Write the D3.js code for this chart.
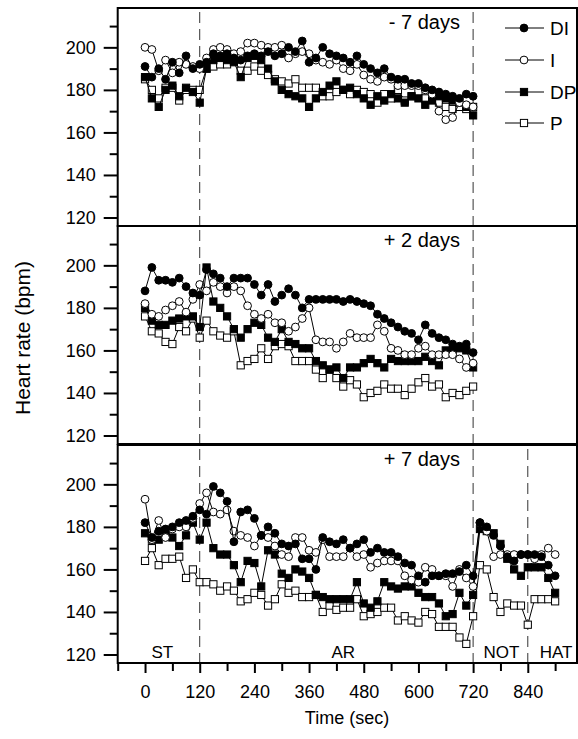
<!DOCTYPE html>
<meta charset="utf-8">
<script src="https://d3js.org/d3.v7.min.js"></script>
<style>
  body { margin: 0; background: #fff; }
  text { font-family: "Liberation Sans", Arial, sans-serif; fill: #000; }
</style>
<body>
<div id="chart"></div>
<script>
// time stamps (sec)
var timesAR = [0,15,30,45,60,75,90,105,120,135,150,165,180,195,210,225,240,255,270,285,300,315,330,345,360,375,390,405,420,435,450,465,480,495,510,525,540,555,570,585,600,615,630,645,660,675,690,705,720];
var timesAll = timesAR.concat([735,750,765,780,795,810,825,840,855,870,885,900]);

// - 7 days
var DI1 = [191,186,190,185,193,188,196,190,192,193,197,196,197,195,194,196,197,196,198,196,197,200,198,203,193,195,200,197,196,195,193,196,192,190,188,190,186,185,185,183,183,181,180,179,178,177,176,178,177];
var I1  = [200,199,189,194,188,193,192,191,190,195,199,200,199,197,198,202,202,201,200,200,201,195,197,198,197,194,193,192,194,190,189,192,187,185,184,186,185,182,182,182,182,180,178,170,166,167,174,173,172];
var DP1 = [186,176,172,180,182,177,181,179,174,190,194,195,194,193,186,195,196,194,190,184,180,178,177,176,172,176,179,182,184,180,181,178,176,173,177,175,178,176,174,177,176,173,175,177,176,175,174,172,168];
var P1  = [185,180,176,181,181,175,180,180,180,190,191,192,192,194,189,189,191,189,187,185,184,183,185,181,181,181,177,177,179,180,178,180,179,178,174,178,176,180,175,177,179,176,177,174,172,171,172,171,172];

// + 2 days
var DI2 = [188,199,193,193,192,194,190,187,186,198,196,194,190,194,194,194,191,186,191,183,186,189,186,180,184,184,184,184,184,183,184,183,182,181,177,175,173,171,169,168,165,172,168,166,165,163,162,163,159];
var I2  = [182,177,176,179,181,183,178,184,191,188,192,190,187,190,188,181,177,175,177,173,173,169,171,175,180,165,164,164,161,164,168,166,166,166,172,169,161,160,158,158,161,162,158,158,158,158,156,152,154];
var DP2 = [180,174,172,172,174,175,176,176,171,199,183,180,176,170,166,170,173,172,166,164,170,164,163,161,161,155,153,151,152,147,152,152,154,156,154,152,156,155,155,155,155,157,155,153,160,160,161,160,152];
var P2  = [176,169,168,164,163,171,169,175,166,174,169,167,166,169,153,155,156,161,156,162,163,162,155,155,155,151,147,151,147,143,146,144,138,140,141,144,142,142,139,142,145,147,143,144,138,140,139,141,143];

// + 7 days
var DI3 = [182,175,178,179,180,182,183,185,188,186,199,196,192,173,187,188,184,176,180,177,172,171,172,165,165,160,175,173,172,174,170,172,174,168,170,168,168,166,163,162,157,154,157,157,158,158,159,162,157,182,180,176,171,166,164,167,167,167,166,162,157];
var I3  = [193,174,183,175,179,180,180,184,191,196,187,186,188,178,176,175,171,176,175,171,167,166,175,175,169,168,174,166,166,166,170,166,167,161,163,164,164,164,157,155,154,161,160,157,157,152,160,156,152,182,178,166,167,167,167,167,167,165,167,170,167];
var DP3 = [177,174,174,178,175,171,176,182,174,182,170,167,167,162,154,164,163,152,169,167,158,156,160,159,156,148,147,146,146,146,146,154,144,142,145,154,152,151,152,152,149,147,147,144,138,139,149,143,148,179,178,177,172,165,160,157,161,161,161,156,149];
var P3  = [164,170,162,165,165,166,156,160,154,154,153,150,152,150,145,146,149,148,143,146,153,149,150,147,147,148,140,143,141,142,142,146,138,139,140,142,142,136,138,136,135,140,139,133,133,133,128,125,138,162,160,147,140,144,143,143,134,146,146,146,145];

var seriesNames = ["DI", "I", "DP", "P"];
var panelLabels = ["- 7 days", "+ 2 days", "+ 7 days"];
var phaseLabels = ["ST", "AR", "NOT", "HAT"];
var phaseCenters = [38, 435, 782, 902];
var yMajor = [120, 140, 160, 180, 200];
var yMinor = [130, 150, 170, 190, 210];
var xMajor = [0, 120, 240, 360, 480, 600, 720, 840];
var xMinor = [-60, 60, 180, 300, 420, 540, 660, 780, 900];

var panels = [
  { label: panelLabels[0], times: timesAR, data: [DI1, I1, DP1, P1], dashes: [120, 720] },
  { label: panelLabels[1], times: timesAR, data: [DI2, I2, DP2, P2], dashes: [120, 720] },
  { label: panelLabels[2], times: timesAll, data: [DI3, I3, DP3, P3], dashes: [120, 720, 840] }
];

var W = 578, H = 739;
var svg = d3.select("#chart").append("svg").attr("width", W).attr("height", H);

var x = d3.scaleLinear().domain([-60, 948]).range([117.7, 577]);
var panelTops = [8, 226, 445], panelH = 218;

var styles = {
  DI: { shape: "circle", fill: "#000" },
  I:  { shape: "circle", fill: "#fff" },
  DP: { shape: "square", fill: "#000" },
  P:  { shape: "square", fill: "#fff" }
};

function drawMarker(g, name, cx, cy) {
  var s = styles[name];
  if (s.shape == "circle") {
    g.append("circle").attr("cx", cx).attr("cy", cy).attr("r", 3.9)
      .attr("fill", s.fill).attr("stroke", "#000").attr("stroke-width", 1);
  } else {
    g.append("rect").attr("x", cx - 3.6).attr("y", cy - 3.6).attr("width", 7.2).attr("height", 7.2)
      .attr("fill", s.fill).attr("stroke", "#000").attr("stroke-width", 1);
  }
}

panels.forEach(function (p, pi) {
  var top = panelTops[pi];
  var y = d3.scaleLinear().domain([116, 218.5]).range([top + panelH, top]);
  var g = svg.append("g");

  // dashed phase lines
  p.dashes.forEach(function (t) {
    g.append("line").attr("x1", x(t)).attr("x2", x(t)).attr("y1", top + 4).attr("y2", top + panelH)
      .attr("stroke", "#333").attr("stroke-width", 1).attr("stroke-dasharray", "11,6");
  });

  // series, drawn back to front
  [3, 2, 1, 0].forEach(function (si) {
    var vals = p.data[si];
    var pts = p.times.map(function (t, i) { return [t, vals[i]]; });
    g.append("path").datum(pts)
      .attr("fill", "none").attr("stroke", "#000").attr("stroke-width", 1)
      .attr("d", d3.line().x(function (d) { return x(d[0]); }).y(function (d) { return y(d[1]); }));
    var mg = g.append("g");
    pts.forEach(function (d) { drawMarker(mg, seriesNames[si], x(d[0]), y(d[1])); });
  });

  // y axis
  g.append("g").attr("transform", "translate(" + x(-60) + ",0)")
    .call(d3.axisLeft(y).tickValues(yMajor).tickSize(14).tickPadding(8).tickFormat(d3.format("d")))
    .call(function (a) { a.select(".domain").remove(); a.selectAll("line").attr("stroke-width", 2); a.selectAll("text").style("font-size", "18px"); });
  g.append("g").attr("transform", "translate(" + x(-60) + ",0)")
    .call(d3.axisLeft(y).tickValues(yMinor).tickSize(8).tickFormat(""))
    .call(function (a) { a.select(".domain").remove(); a.selectAll("line").attr("stroke-width", 2); });

  // frame
  g.append("rect").attr("x", x(-60)).attr("y", top).attr("width", 577 - x(-60)).attr("height", panelH)
    .attr("fill", "none").attr("stroke", "#000").attr("stroke-width", 2);

  // panel label
  g.append("text").attr("x", 460).attr("y", top + 21).attr("text-anchor", "end")
    .style("font-size", "20px").text(p.label);
});

// legend in top panel
var legY = [28, 60, 92, 123];
seriesNames.forEach(function (n, i) {
  var lg = svg.append("g");
  lg.append("line").attr("x1", 505).attr("x2", 544).attr("y1", legY[i]).attr("y2", legY[i])
    .attr("stroke", "#000").attr("stroke-width", 1);
  drawMarker(lg, n, 524, legY[i]);
  lg.append("text").attr("x", 550).attr("y", legY[i] + 7).style("font-size", "19px").text(n);
});

// x axis
var bottom = panelTops[2] + panelH;
svg.append("g").attr("transform", "translate(0," + bottom + ")")
  .call(d3.axisBottom(x).tickValues(xMajor).tickSize(10).tickPadding(12).tickFormat(d3.format("d")))
  .call(function (a) { a.select(".domain").remove(); a.selectAll("line").attr("stroke-width", 2); a.selectAll("text").style("font-size", "18px"); });
svg.append("g").attr("transform", "translate(0," + bottom + ")")
  .call(d3.axisBottom(x).tickValues(xMinor).tickSize(8).tickFormat(""))
  .call(function (a) { a.select(".domain").remove(); a.selectAll("line").attr("stroke-width", 2); });

// phase labels
phaseLabels.forEach(function (l, i) {
  svg.append("text").attr("x", x(phaseCenters[i])).attr("y", bottom - 5)
    .attr("text-anchor", "middle").style("font-size", "17px").text(l);
});

// axis titles
svg.append("text").attr("x", 347).attr("y", 724).attr("text-anchor", "middle")
  .style("font-size", "18px").text("Time (sec)");
svg.append("text").attr("transform", "translate(30,338) rotate(-90)").attr("text-anchor", "middle")
  .style("font-size", "21px").text("Heart rate (bpm)");
</script>
</body>
